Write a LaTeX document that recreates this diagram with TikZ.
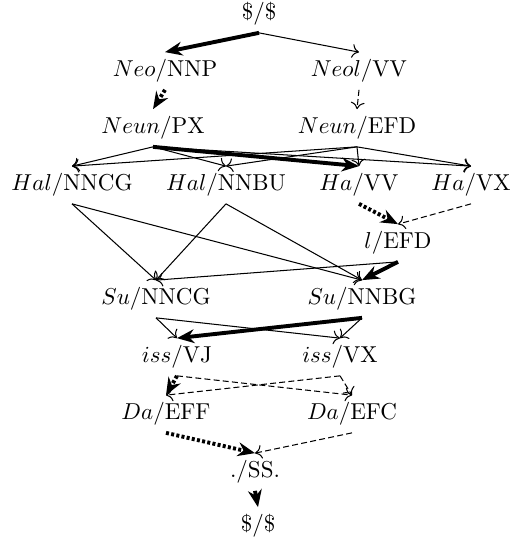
\documentclass[tikz,border=0pt]{standalone}
\usetikzlibrary{arrows.meta}
\begin{document}
\begin{tikzpicture}[x=0.4348pt,y=-0.4348pt,
  lbl/.style={inner sep=3pt},
  plain/.style={-{To[length=3pt,width=6pt]}, line width=0.45pt},
  best/.style={-{Stealth[length=7.5pt,width=6pt]}, line width=1.7pt},
  bestdot/.style={best, dash pattern=on 1.3pt off 1pt},
  cand/.style={plain, dash pattern=on 2.6pt off 1.4pt}]
\useasboundingbox (0,0) rectangle (519,539);
\node[lbl] (top)     at (259,14)  {\$/\$};
\node[lbl] (neo)     at (165,71)  {$Neo/\mathrm{NNP}$};
\node[lbl] (neol)    at (359,71)  {$Neol/\mathrm{VV}$};
\node[lbl] (neunpx)  at (153,128) {$Neun/\mathrm{PX}$};
\node[lbl] (neunefd) at (357,128) {$Neun/\mathrm{EFD}$};
\node[lbl] (halcg)   at (72,185)  {$Hal/\mathrm{NNCG}$};
\node[lbl] (halbu)   at (226,185) {$Hal/\mathrm{NNBU}$};
\node[lbl] (havv)    at (359,185) {$Ha/\mathrm{VV}$};
\node[lbl] (havx)    at (471,185) {$Ha/\mathrm{VX}$};
\node[lbl] (lefd)    at (398,243) {$l/\mathrm{EFD}$};
\node[lbl] (sucg)    at (156,299) {$Su/\mathrm{NNCG}$};
\node[lbl] (subg)    at (362,299) {$Su/\mathrm{NNBG}$};
\node[lbl] (issvj)   at (177,357) {$iss/\mathrm{VJ}$};
\node[lbl] (issvx)   at (340,357) {$iss/\mathrm{VX}$};
\node[lbl] (daeff)   at (166,414) {$Da/\mathrm{EFF}$};
\node[lbl] (daefc)   at (352,414) {$Da/\mathrm{EFC}$};
\node[lbl] (ss)      at (255,472) {./SS.};
\node[lbl] (bot)     at (258,526) {\$/\$};
% thin candidate arcs
\draw[plain] (top.south) -- (neol.north);
\draw[plain] (neunpx.south) -- (halcg.north);
\draw[plain] (neunpx.south) -- (halbu.north);
\draw[plain] (neunpx.south) -- (havx.north);
\draw[plain] (neunefd.south) -- (halcg.north);
\draw[plain] (neunefd.south) -- (halbu.north);
\draw[plain] (neunefd.south) -- (havv.north);
\draw[plain] (neunefd.south) -- (havx.north);
\draw[plain] (halcg.south) -- (sucg.north);
\draw[plain] (halcg.south) -- (subg.north);
\draw[plain] (halbu.south) -- (sucg.north);
\draw[plain] (halbu.south) -- (subg.north);
\draw[plain] (lefd.south) -- (sucg.north);
\draw[plain] (sucg.south) -- (issvj.north);
\draw[plain] (sucg.south) -- (issvx.north);
\draw[plain] (subg.south) -- (issvx.north);
% dashed candidate arcs
\draw[cand] (neol.south) -- (neunefd.north);
\draw[cand] (havx.south) -- (lefd.north);
\draw[cand] (issvj.south) -- (daefc.north);
\draw[cand] (issvx.south) -- (daeff.north);
\draw[cand] (issvx.south) -- (daefc.north);
\draw[cand] (daefc.south) -- (ss.north);
% best path
\draw[best] (top.south) -- (neo.north);
\draw[bestdot] (neo.south) -- (neunpx.north);
\draw[best] (neunpx.south) -- (havv.north);
\draw[bestdot] (havv.south) -- (lefd.north);
\draw[best] (lefd.south) -- (subg.north);
\draw[best] (subg.south) -- (issvj.north);
\draw[bestdot] (issvj.south) -- (daeff.north);
\draw[bestdot] (daeff.south) -- (ss.north);
\draw[best] (ss.south) -- (bot.north);
\end{tikzpicture}
\end{document}
